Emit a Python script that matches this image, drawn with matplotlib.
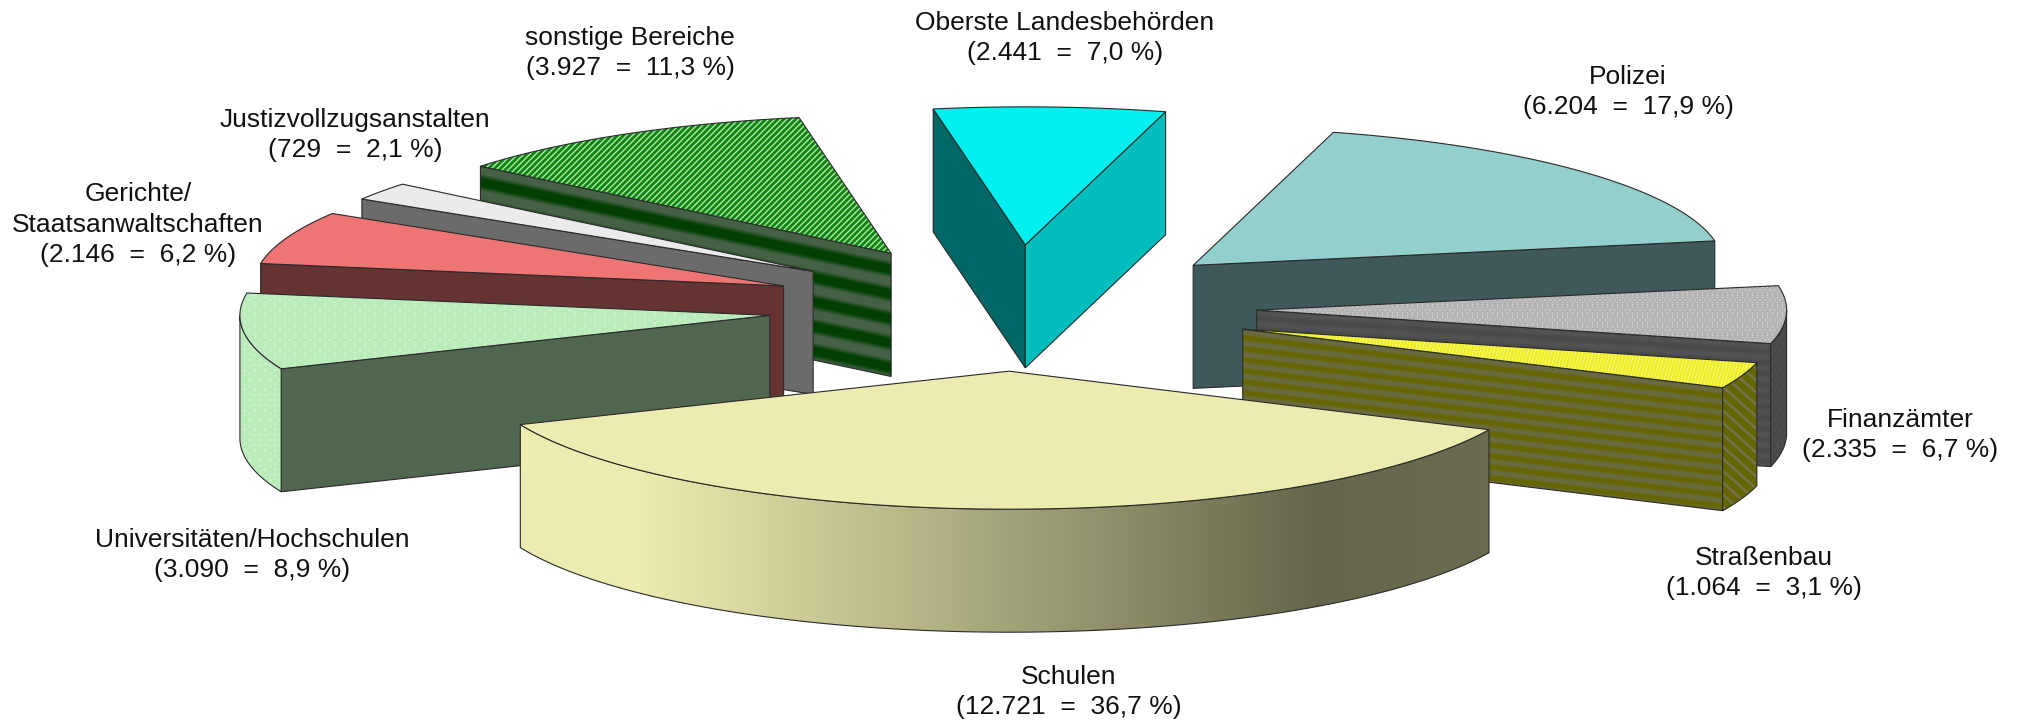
import numpy as np
import matplotlib
matplotlib.use('Agg')
import matplotlib.pyplot as plt
from matplotlib.colors import to_rgb
from matplotlib.patches import Polygon

# Daten, im Uhrzeigersinn ab dem rechten Rand von "Schulen"
bereiche = ['Schulen', 'Universitäten/Hochschulen', 'Gerichte/\nStaatsanwaltschaften',
            'Justizvollzugsanstalten', 'sonstige Bereiche', 'Oberste Landesbehörden',
            'Polizei', 'Finanzämter', 'Straßenbau']
werte = [12721, 3090, 2146, 729, 3927, 2441, 6204, 2335, 1064]
werte_text = ['12.721', '3.090', '2.146', '729', '3.927', '2.441', '6.204', '2.335', '1.064']
prozent_text = ['36,7', '8,9', '6,2', '2,1', '11,3', '7,0', '17,9', '6,7', '3,1']

# Geometrie der Torte in Pixeln
CX, CY = 1014, 308
RX, RY = 530, 138
HOEHE = 123
EXPLODE = 0.458
START = -25.1
# die Stücke sind im Original von Hand leicht verschoben
schub_x = [0, -3, -3, -3, 0, 0, 0, 0, 0]

label_x = [1069, 252, 138, 355, 630, 1065, 1628, 1900, 1764]
label_y = [714, 577, 262, 157, 75, 60, 114, 457, 595]

fig = plt.figure(figsize=(20.19, 7.24), dpi=100)
ax = fig.add_axes([0, 0, 1, 1])
ax.axis('off')


def mix(c1, c2, t):
    c1, c2 = np.array(to_rgb(c1)), np.array(to_rgb(c2))
    return c1 + (c2 - c1) * t[..., None]


def einfarbig(c):
    return lambda x, y: mix(c, c, np.zeros_like(x))


def schraeg(c1, c2, kx, periode, anteil):
    # diagonale Linien
    def f(x, y):
        s = np.cos(2 * np.pi * (y + kx * x) / periode)
        return mix(c1, c2, np.clip((s - np.cos(np.pi * anteil)) * 1.1 + 0.5, 0, 1))
    return f


def punkte(c1, c2, px, py):
    def f(x, y):
        s = np.cos(2 * np.pi * x / px + np.pi * np.round(y / py)) * np.cos(2 * np.pi * y / py)
        return mix(c1, c2, np.clip(s * 1.4 - 0.5, 0, 1))
    return f


def streifen(p0, p1, periode, versatz, c1, c2, hart):
    # Bänder parallel zur Oberkante der Schnittfläche
    steig = (p1[1] - p0[1]) / (p1[0] - p0[0])

    def f(x, y):
        v = y - (p0[1] + steig * (x - p0[0])) - versatz
        return mix(c1, c2, np.clip(np.cos(2 * np.pi * v / periode) * hart + 0.5, 0, 1))
    return f


def verlauf(x_stellen, t_stellen, c1, c2):
    return lambda x, y: mix(c1, c2, np.interp(x, x_stellen, t_stellen))


def flaeche(poly, fuellung, z):
    poly = np.array(poly)
    x0, y0 = np.floor(poly.min(axis=0))
    x1, y1 = np.ceil(poly.max(axis=0))
    xx, yy = np.meshgrid(np.arange(x0, x1) + 0.5, np.arange(y0, y1) + 0.5)
    im = ax.imshow(fuellung(xx, yy), extent=(x0, x1, y1, y0), interpolation='bilinear',
                   zorder=z, aspect='auto')
    im.set_clip_path(Polygon(poly, transform=ax.transData))
    ax.add_patch(Polygon(poly, closed=True, fill=False, edgecolor='#2a2a2a', linewidth=0.8, zorder=z))


# Winkel aus den Werten
grad = np.array(werte) / sum(werte) * 360
t_start = START - np.concatenate([[0], np.cumsum(grad)[:-1]])
t_ende = t_start - grad
t_mitte = (t_start + t_ende) / 2
spitze_x = CX + EXPLODE * RX * np.cos(np.radians(t_mitte)) + np.array(schub_x)
spitze_y = CY - EXPLODE * RY * np.sin(np.radians(t_mitte))


def rand(i, t):
    return spitze_x[i] + RX * np.cos(np.radians(t)), spitze_y[i] - RY * np.sin(np.radians(t))


def kante(i, t):
    return [(spitze_x[i], spitze_y[i]), rand(i, t)]


# Oberseiten und Seiten
oben = {
    0: einfarbig('#ECECB0'),
    1: punkte('#B9EBBB', '#D8F3D8', 10, 5),
    2: einfarbig('#EF7575'),
    3: einfarbig('#EBEBEB'),
    4: schraeg('#0C880C', '#C8EAC8', 1.0, 6, 0.3),
    5: einfarbig('#00F0F0'),
    6: einfarbig('#92CFCD'),
    7: punkte('#B4B4B4', '#DCDCDC', 5, 5),
    8: schraeg('#EFEF18', '#F6F6A0', 3.5, 12, 0.3),
}
seite_start = {
    1: einfarbig('#51664F'),
    2: einfarbig('#663333'),
    3: einfarbig('#6B6B6B'),
    4: streifen(*kante(4, t_start[4]), 24.5, 16, '#466046', '#003F00', 0.8),
    5: einfarbig('#006666'),
}
seite_ende = {
    5: einfarbig('#00BDBD'),
    6: einfarbig('#3F5859'),
    7: streifen(*kante(7, t_ende[7]), 11, 3, '#4A4A4A', '#525252', 0.7),
    8: streifen(*kante(8, t_ende[8]), 11, 3, '#666600', '#6A6A40', 0.7),
}
bogen = {
    0: verlauf([518, 640, 1316, 1490], [0, 0, 1, 0.96], '#ECECB0', '#66664C'),
    1: punkte('#B9EBBB', '#D8F3D8', 10, 10),
    7: punkte('#4A4A4A', '#5A5A5A', 5, 5),
    8: schraeg('#666600', '#777766', -0.9, 12, 0.25),
}

# von hinten nach vorne zeichnen
for z, i in enumerate(np.argsort(spitze_y)):
    sx, sy = spitze_x[i], spitze_y[i]
    for t, sichtbar, fuell in [(t_start[i], np.cos(np.radians(t_start[i])) < 0, seite_start.get(i)),
                               (t_ende[i], np.cos(np.radians(t_ende[i])) > 0, seite_ende.get(i))]:
        if sichtbar and fuell is not None:
            rx, ry = rand(i, t)
            flaeche([(sx, sy), (rx, ry), (rx, ry + HOEHE), (sx, sy + HOEHE)], fuell, z * 3 + 1)
    ts = np.linspace(t_start[i], t_ende[i], 300)
    ts = ts[np.sin(np.radians(ts)) < 0]
    if len(ts) > 1 and i in bogen:
        ax_x, ax_y = rand(i, ts)
        oberkante = list(zip(ax_x, ax_y))
        unterkante = list(zip(ax_x[::-1], ax_y[::-1] + HOEHE))
        flaeche(oberkante + unterkante, bogen[i], z * 3 + 2)
    ts = np.linspace(t_start[i], t_ende[i], 300)
    ax_x, ax_y = rand(i, ts)
    flaeche([(sx, sy)] + list(zip(ax_x, ax_y)), oben[i], z * 3 + 3)

for i in range(len(bereiche)):
    text = f'{bereiche[i]}\n({werte_text[i]}  =  {prozent_text[i]} %)'
    ax.text(label_x[i], label_y[i], text, ha='center', va='baseline', multialignment='center',
            family='Liberation Sans', fontsize=19, linespacing=1.34, color='#111111', zorder=50)

ax.set_xlim(0, 2019)
ax.set_ylim(724, 0)
fig.savefig('out.png', dpi=100, facecolor='white')
